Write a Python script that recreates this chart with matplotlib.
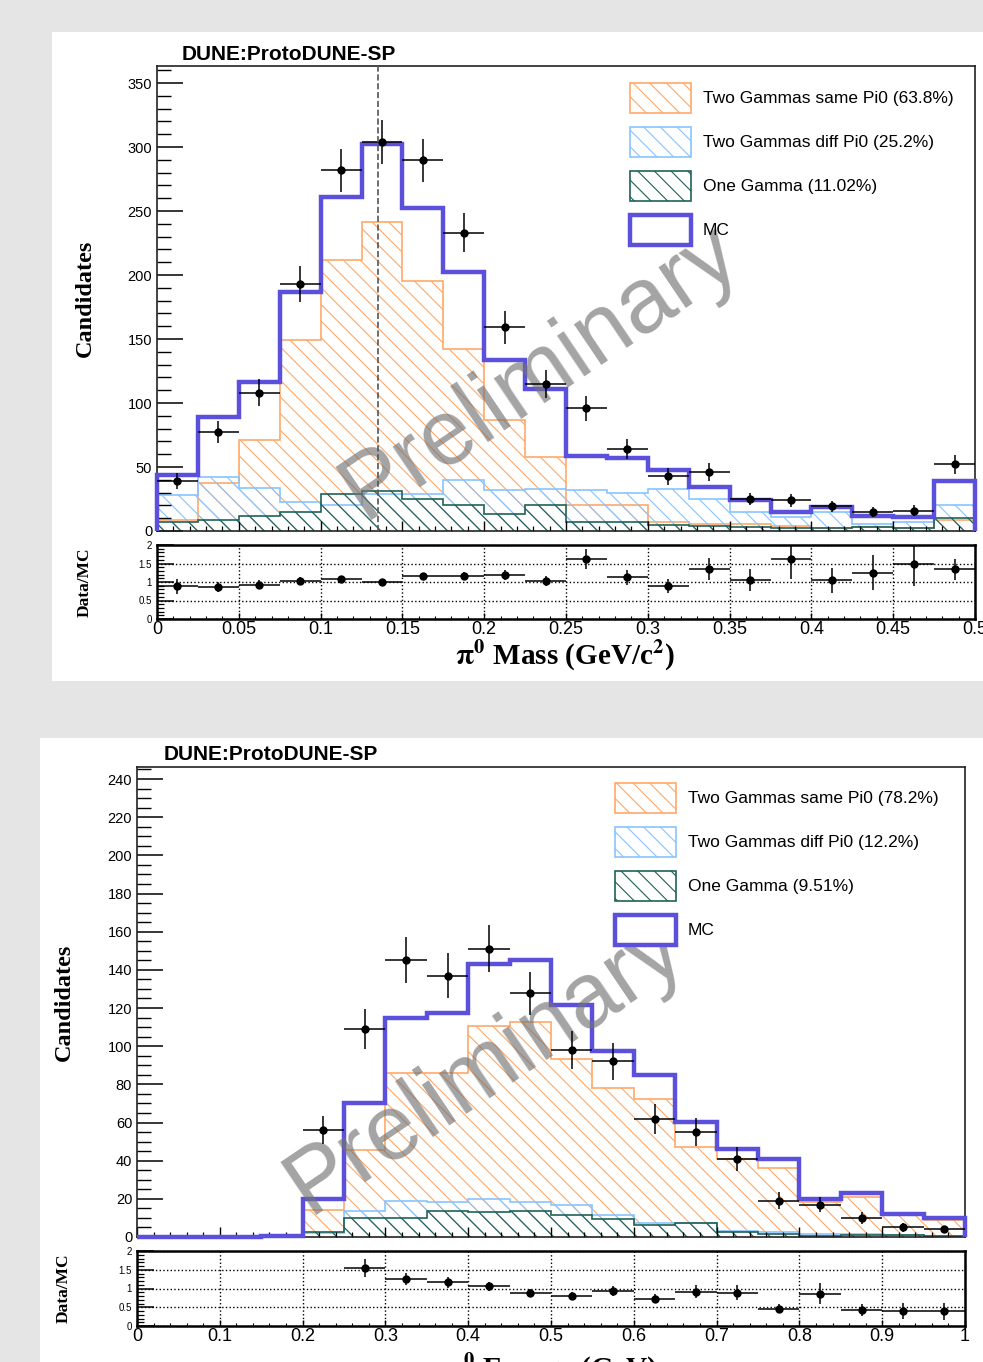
#!/usr/bin/env python3
import numpy as np
import matplotlib
matplotlib.use('Agg')
import matplotlib.pyplot as plt
from matplotlib.patches import Patch, Rectangle
from matplotlib.ticker import MultipleLocator, FuncFormatter

# ---------------------------------------------------------------------------
# data
mass_edges = np.linspace(0.0, 0.5, 21)
mass_same = np.array([8.7, 37.6, 71, 149, 212, 241.5, 195.7, 142, 87, 57.7,
                      20, 20, 7, 5.6, 5.6, 3.7, 2.5, 3, 2, 8.7])
mass_diff = np.array([28.5, 42, 33.5, 22.5, 20, 29, 29, 39.5, 32, 33,
                      32.4, 30, 33, 25, 14.7, 10.8, 14.7, 5.6, 7, 20.5])
mass_one = np.array([7, 8.7, 12, 14.7, 29, 31.6, 25, 20, 13.4, 20,
                     7, 7, 5, 4, 3, 2, 2, 3, 2, 10])
mass_mc = np.array([44, 89, 116.7, 186.5, 261, 302.7, 252, 202, 133.6, 111,
                    58.8, 56.7, 47.6, 34.1, 24, 14.7, 18.6, 12.1, 10.8, 38.7])
mass_data = np.array([38.8, 77.2, 108, 193, 282, 303.8, 289.5, 233, 159, 115,
                      96, 64, 42.8, 46, 25, 24, 19.4, 15.2, 16, 52])
mass_labels = ['Two Gammas same Pi0 (63.8%)', 'Two Gammas diff Pi0 (25.2%)',
               'One Gamma (11.02%)', 'MC']

energy_edges = np.linspace(0.0, 1.0, 21)
energy_same = np.array([0, 0, 0, 0.4, 14, 45.8, 85.7, 85.7, 110.4, 112.7,
                        93.5, 78.3, 72.5, 47.2, 41, 36.4, 18.3, 21, 11.4, 9.1])
energy_diff = np.array([0, 0, 0, 0.2, 2, 13.8, 19, 18.5, 19.8, 18.5,
                        16.6, 11.4, 7.4, 7.4, 3.2, 2.8, 1.5, 1.5, 0.8, 0.6])
energy_one = np.array([0, 0, 0, 0.1, 2.6, 10.1, 10.1, 13.6, 13, 13.6,
                       11.4, 9.6, 6.1, 7.5, 2.6, 1.7, 0.5, 0.8, 0.8, 0.5])
energy_mc = np.array([0, 0, 0, 0.7, 19.7, 70, 115, 117.4, 143.3, 145,
                      121.6, 97.6, 85, 60.4, 45.9, 40.8, 19.8, 23.3, 12.3, 10.2])
energy_data = np.array([0, 0, 0, 0, 56, 109, 145, 137, 151, 127.7,
                        98, 92, 62, 55, 41, 19, 17, 10, 5, 4])
energy_labels = ['Two Gammas same Pi0 (78.2%)', 'Two Gammas diff Pi0 (12.2%)',
                 'One Gamma (9.51%)', 'MC']

pi0_mass = 0.135

# ---------------------------------------------------------------------------
plt.rcParams['font.family'] = ['Liberation Sans', 'DejaVu Sans']
plt.rcParams['mathtext.fontset'] = 'stix'
plt.rcParams['hatch.linewidth'] = 0.8

c_same = '#ffa868'
c_diff = '#88c4ff'
c_one = '#1f6158'
c_mc = '#5a50dc'
HATCH = '\\\\'

W, H = 983, 1362
fig = plt.figure(figsize=(W / 100, H / 100), dpi=100)
fig.patch.set_facecolor('#e5e5e5')


def fx(x):
    return x / W


def fy(y):
    return 1 - y / H


def rect(x0, y0, x1, y1):
    return [fx(x0), fy(y1), fx(x1) - fx(x0), fy(y0) - fy(y1)]


fmt = FuncFormatter(lambda v, p: '%g' % v)


# ---------------------------------------------------------------------------
def draw_panel(box, main_px, ratio_px, edges, same, diff, one, mc, data, labels,
               ytop, ymaj, ymin, xmaj, xmin, title_px, leg_px, wm_px, ylab_x,
               xlabel, xlabel_px):
    # white pad
    fig.add_artist(Rectangle((fx(box[0]), fy(box[3])), fx(box[2]) - fx(box[0]),
                             fy(box[1]) - fy(box[3]), transform=fig.transFigure,
                             facecolor='white', edgecolor='none', zorder=-5))

    ax = fig.add_axes(rect(*main_px))
    for vals, col in [(same, c_same), (diff, c_diff), (one, c_one)]:
        ax.stairs(vals, edges, fill=True, facecolor='none', edgecolor=col,
                  hatch=HATCH, lw=0)
        ax.stairs(vals, edges, color=col, lw=1.2)
    ax.stairs(mc, edges, color=c_mc, lw=3.2, zorder=4, clip_on=False)

    centers = 0.5 * (edges[1:] + edges[:-1])
    half = 0.5 * (edges[1] - edges[0])
    ok = data > 0
    ax.errorbar(centers[ok], data[ok], xerr=half, yerr=np.sqrt(data[ok]),
                fmt='o', color='k', ms=5, elinewidth=1.1, capsize=0, zorder=6)

    ax.set_xlim(edges[0], edges[-1])
    ax.set_ylim(0, ytop)
    ax.yaxis.set_major_locator(MultipleLocator(ymaj))
    ax.yaxis.set_minor_locator(MultipleLocator(ymin))
    ax.xaxis.set_major_locator(MultipleLocator(xmaj))
    ax.xaxis.set_minor_locator(MultipleLocator(xmin))
    ax.yaxis.set_major_formatter(fmt)
    ax.tick_params(axis='y', which='major', direction='in', length=19, width=1.1,
                   labelsize=10.5, pad=3.5)
    ax.tick_params(axis='y', which='minor', direction='in', length=10, width=1.0)
    ax.tick_params(axis='x', which='major', direction='in', length=7, width=1.0,
                   labelbottom=False)
    ax.tick_params(axis='x', which='minor', direction='in', length=3.5, width=0.9)
    for s in ax.spines.values():
        s.set_linewidth(1.2)
        s.set_color('#222222')

    # watermark
    ax.text(fx(wm_px[0]), fy(wm_px[1]), 'Preliminary', transform=fig.transFigure,
            fontsize=66, color='#737373', alpha=0.65, rotation=34,
            ha='center', va='center', zorder=5)

    # ratio
    rax = fig.add_axes(rect(*ratio_px))
    good = (data > 0) & (mc > 0)
    ratio = data[good] / mc[good]
    rerr = ratio * np.sqrt(1.0 / data[good] + 1.0 / mc[good])
    rax.errorbar(centers[good], ratio, xerr=half, yerr=rerr, fmt='o', color='k',
                 ms=5, elinewidth=1.1, capsize=0, zorder=5)
    rax.set_xlim(edges[0], edges[-1])
    rax.set_ylim(0, 2)
    rax.yaxis.set_major_locator(MultipleLocator(0.5))
    rax.yaxis.set_minor_locator(MultipleLocator(0.1))
    rax.xaxis.set_major_locator(MultipleLocator(xmaj))
    rax.xaxis.set_minor_locator(MultipleLocator(xmin))
    rax.xaxis.set_major_formatter(fmt)
    rax.yaxis.set_major_formatter(fmt)
    rax.grid(True, which='major', ls=':', color='k', lw=1.0)
    rax.tick_params(axis='y', which='major', direction='in', length=12, width=1.1,
                    labelsize=7, pad=3.5)
    rax.tick_params(axis='y', which='minor', direction='in', length=5, width=0.9)
    rax.tick_params(axis='x', which='major', direction='in', length=4, width=1.0,
                    labelsize=13, pad=1.5)
    rax.tick_params(axis='x', which='minor', direction='in', length=2, width=0.8)
    for s in rax.spines.values():
        s.set_linewidth(1.8)
        s.set_color('black')

    # texts
    fig.text(fx(title_px[0]), fy(title_px[1]), 'DUNE:ProtoDUNE-SP', fontsize=15,
             fontweight='bold', ha='left', va='center')
    fig.text(fx(ylab_x), fy((main_px[1] + main_px[3]) / 2), 'Candidates',
             family='Liberation Serif', fontweight='bold', fontsize=17.5,
             rotation=90, ha='center', va='center')
    fig.text(fx(ylab_x), fy((ratio_px[1] + ratio_px[3]) / 2), 'Data/MC',
             family='Liberation Serif', fontweight='bold', fontsize=12.5,
             rotation=90, ha='center', va='center')
    fig.text(fx(xlabel_px[0]), fy(xlabel_px[1]), xlabel,
             family='Liberation Serif', fontweight='bold', fontsize=21,
             ha='center', va='center')

    handles = [Patch(facecolor='none', edgecolor=c_same, hatch=HATCH, lw=1.2),
               Patch(facecolor='none', edgecolor=c_diff, hatch=HATCH, lw=1.2),
               Patch(facecolor='none', edgecolor=c_one, hatch=HATCH, lw=1.2),
               Patch(facecolor='white', edgecolor=c_mc, lw=3.2)]
    fig.legend(handles, labels, loc='upper left',
               bbox_to_anchor=(fx(leg_px[0]), fy(leg_px[1])), frameon=False,
               fontsize=12.5, handlelength=3.5, handleheight=2.28,
               labelspacing=0.8, handletextpad=0.7, borderpad=0,
               borderaxespad=0)
    return ax, rax


# ---------------------------------------------------------------------------
ax1, rax1 = draw_panel((52, 32, 1100, 681), (157, 66, 975, 531), (157, 545, 975, 619),
                       mass_edges, mass_same, mass_diff, mass_one, mass_mc, mass_data,
                       mass_labels, 363.3, 50, 10, 0.05, 0.01,
                       (182, 55), (630, 83), (540, 372), 85,
                       r'$\mathbf{\pi^{0}}$ Mass (GeV/c$^{\mathbf{2}}$)', (565, 655))
ax1.axvline(pi0_mass, color='#555555', ls='--', lw=1.2, zorder=7)

ax2, rax2 = draw_panel((40, 738, 1100, 1400), (137, 767, 965, 1237), (137, 1251, 965, 1326),
                       energy_edges, energy_same, energy_diff, energy_one, energy_mc,
                       energy_data, energy_labels, 246.3, 20, 5, 0.1, 0.02,
                       (164, 754), (615, 783), (485, 1067), 64,
                       r'$\mathbf{\pi^{0}}$ Energy (GeV)', (551, 1368))

fig.savefig('out.png', dpi=100, facecolor=fig.get_facecolor())
